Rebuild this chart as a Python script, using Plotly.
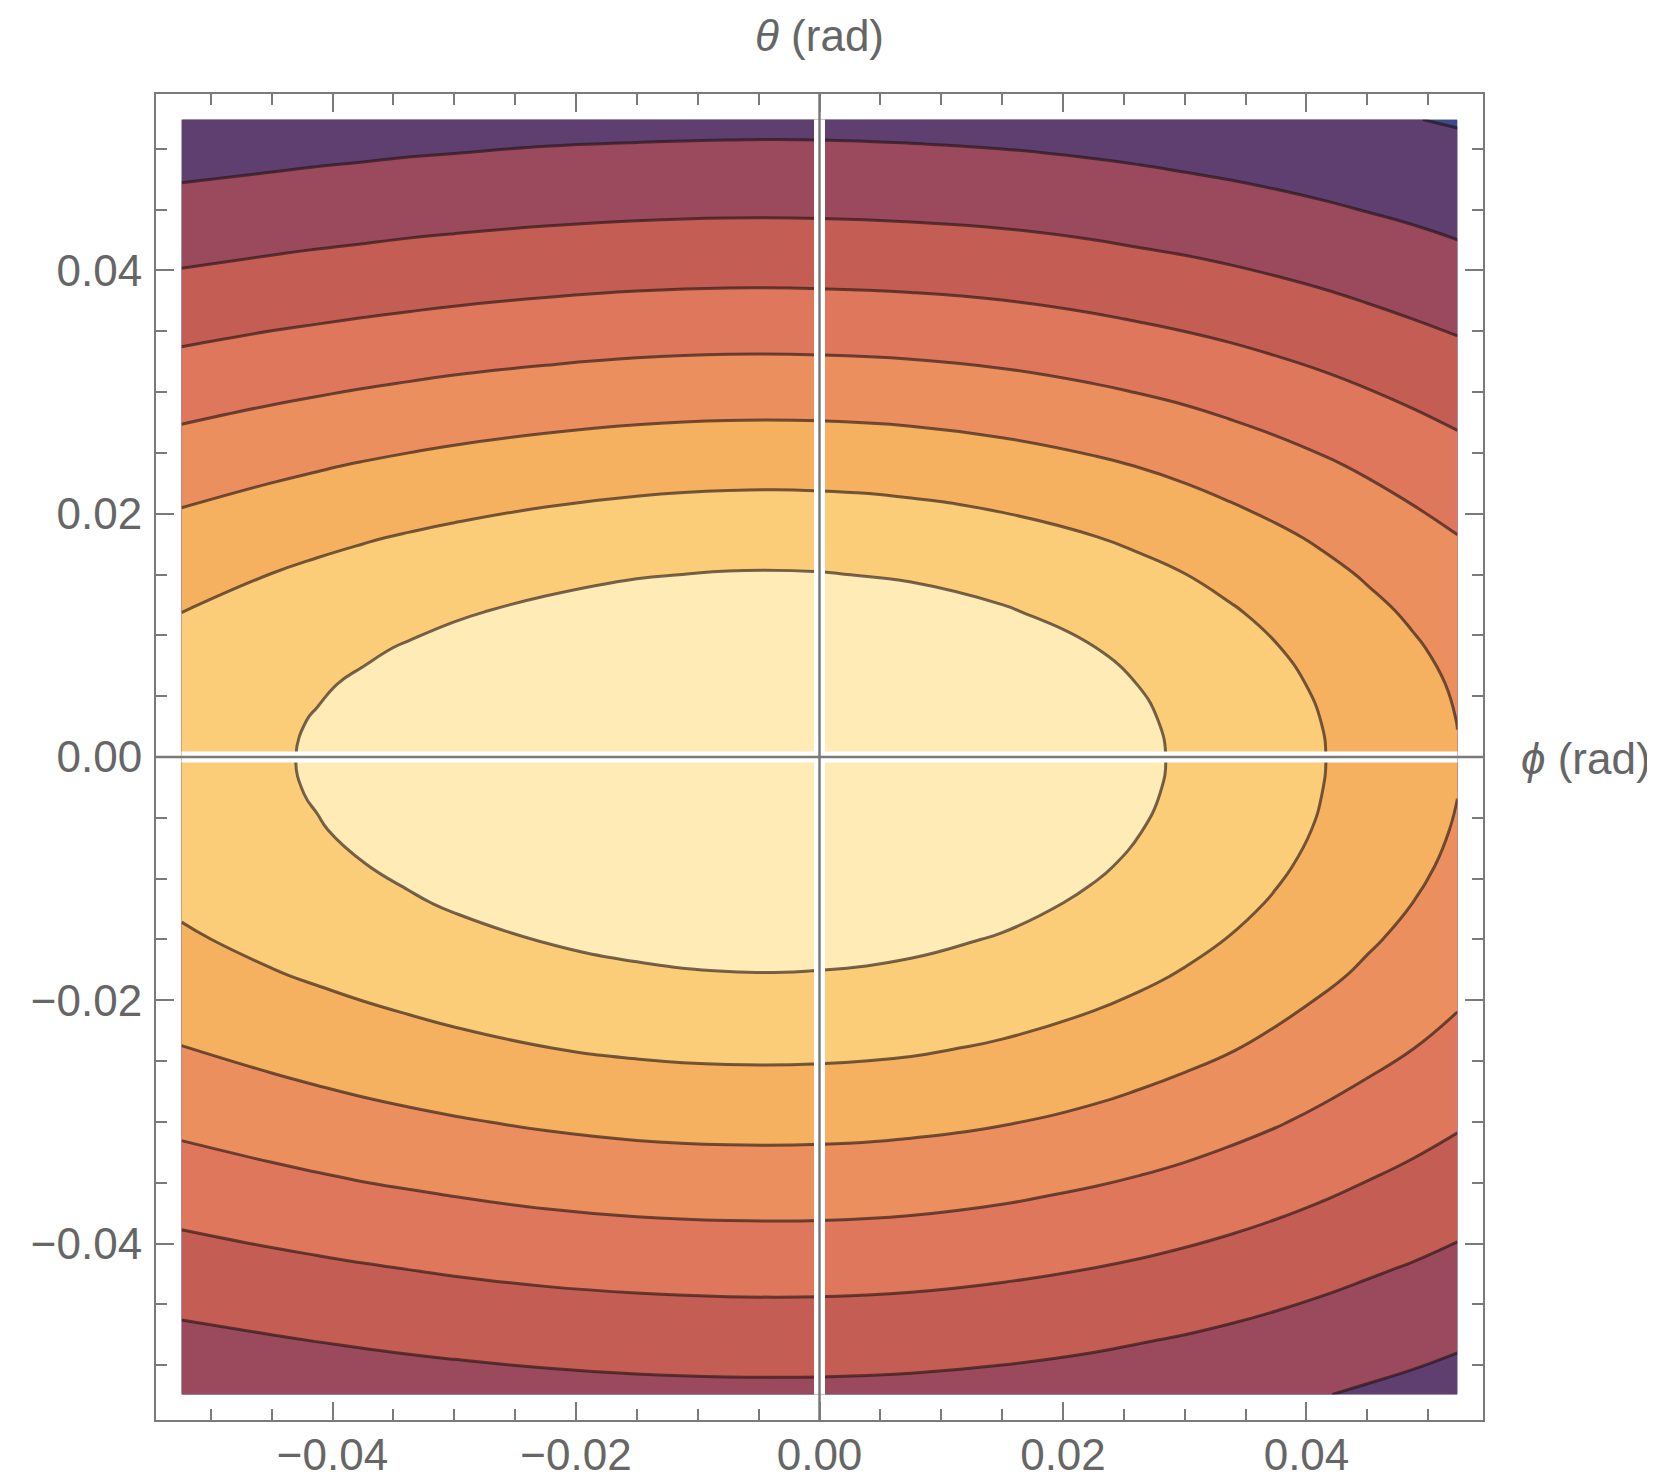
import plotly.graph_objects as go

# ---- data ----
phi = [-0.0524, -0.045, -0.04125, -0.0375, -0.03375, -0.03, -0.0225, -0.015, -0.0075, 0.0,
       0.0075, 0.015, 0.0225, 0.02625, 0.03, 0.03375, 0.0375, 0.04125, 0.045, 0.04875, 0.0524]
theta = [-0.0524, -0.048, -0.042, -0.036, -0.030, -0.024, -0.018, -0.015, -0.012, -0.009,
         -0.006, -0.003, 0.0, 0.003, 0.006, 0.009, 0.012, 0.015, 0.018, 0.024,
         0.030, 0.036, 0.042, 0.048, 0.0524]

# relative amplitude, one row per theta value (bottom to top), one column per phi value
z_grid = [
    [0.322, 0.336, 0.343, 0.349, 0.355, 0.360, 0.369, 0.376, 0.379, 0.379, 0.375, 0.366, 0.353, 0.345, 0.336, 0.326, 0.315, 0.303, 0.290, 0.278, 0.265],
    [0.377, 0.393, 0.401, 0.408, 0.415, 0.421, 0.432, 0.439, 0.443, 0.443, 0.438, 0.428, 0.413, 0.403, 0.393, 0.381, 0.368, 0.354, 0.340, 0.325, 0.310],
    [0.457, 0.476, 0.485, 0.494, 0.502, 0.510, 0.523, 0.532, 0.537, 0.537, 0.531, 0.518, 0.5001, 0.489, 0.476, 0.462, 0.446, 0.429, 0.411, 0.394, 0.376],
    [0.539, 0.562, 0.573, 0.584, 0.593, 0.602, 0.618, 0.629, 0.634, 0.634, 0.627, 0.612, 0.590, 0.577, 0.562, 0.545, 0.527, 0.507, 0.486, 0.465, 0.443],
    [0.621, 0.647, 0.660, 0.672, 0.683, 0.693, 0.711, 0.724, 0.730, 0.729, 0.721, 0.705, 0.680, 0.664, 0.647, 0.627, 0.606, 0.583, 0.559, 0.535, 0.510],
    [0.697, 0.726, 0.740, 0.754, 0.766, 0.778, 0.798, 0.812, 0.819, 0.818, 0.809, 0.790, 0.763, 0.745, 0.725, 0.704, 0.680, 0.654, 0.627, 0.6002, 0.573],
    [0.762, 0.794, 0.809, 0.824, 0.838, 0.851, 0.872, 0.888, 0.896, 0.895, 0.885, 0.864, 0.834, 0.815, 0.793, 0.769, 0.744, 0.716, 0.686, 0.656, 0.626],
    [0.789, 0.822, 0.838, 0.853, 0.868, 0.881, 0.903, 0.919, 0.928, 0.927, 0.916, 0.895, 0.864, 0.844, 0.822, 0.797, 0.770, 0.741, 0.710, 0.680, 0.649],
    [0.812, 0.846, 0.863, 0.878, 0.893, 0.907, 0.930, 0.946, 0.955, 0.954, 0.943, 0.922, 0.889, 0.869, 0.846, 0.820, 0.793, 0.763, 0.731, 0.6997, 0.668],
    [0.831, 0.865, 0.882, 0.898, 0.913, 0.927, 0.951, 0.968, 0.976, 0.976, 0.965, 0.942, 0.909, 0.888, 0.865, 0.839, 0.811, 0.780, 0.748, 0.716, 0.683],
    [0.844, 0.879, 0.896, 0.913, 0.928, 0.942, 0.966, 0.983, 0.992, 0.991, 0.980, 0.957, 0.924, 0.902, 0.879, 0.852, 0.824, 0.793, 0.760, 0.727, 0.694],
    [0.852, 0.888, 0.905, 0.922, 0.937, 0.951, 0.975, 0.993, 1.002, 1.001, 0.989, 0.967, 0.933, 0.911, 0.887, 0.861, 0.832, 0.8003, 0.767, 0.734, 0.701],
    [0.855, 0.891, 0.908, 0.925, 0.940, 0.954, 0.979, 0.996, 1.005, 1.004, 0.993, 0.970, 0.936, 0.914, 0.890, 0.863, 0.834, 0.803, 0.770, 0.736, 0.703],
    [0.851, 0.887, 0.904, 0.921, 0.936, 0.950, 0.974, 0.992, 1.001, 1.000, 0.988, 0.966, 0.932, 0.910, 0.886, 0.860, 0.831, 0.7995, 0.766, 0.733, 0.699],
    [0.840, 0.876, 0.893, 0.909, 0.924, 0.938, 0.962, 0.979, 0.988, 0.987, 0.976, 0.954, 0.920, 0.899, 0.875, 0.849, 0.820, 0.789, 0.757, 0.724, 0.691],
    [0.823, 0.857, 0.874, 0.890, 0.905, 0.919, 0.942, 0.959, 0.967, 0.967, 0.955, 0.934, 0.901, 0.880, 0.857, 0.831, 0.803, 0.773, 0.741, 0.709, 0.676],
    [0.799, 0.832, 0.848, 0.864, 0.878, 0.892, 0.914, 0.931, 0.939, 0.938, 0.927, 0.906, 0.874, 0.854, 0.832, 0.807, 0.779, 0.750, 0.719, 0.688, 0.656],
    [0.769, 0.801, 0.817, 0.831, 0.845, 0.858, 0.880, 0.896, 0.904, 0.903, 0.893, 0.872, 0.841, 0.822, 0.801, 0.776, 0.750, 0.722, 0.692, 0.662, 0.632],
    [0.734, 0.765, 0.780, 0.794, 0.807, 0.819, 0.840, 0.855, 0.863, 0.862, 0.852, 0.833, 0.803, 0.785, 0.764, 0.741, 0.716, 0.689, 0.661, 0.632, 0.603],
    [0.652, 0.679, 0.692, 0.705, 0.717, 0.728, 0.746, 0.759, 0.766, 0.766, 0.757, 0.739, 0.713, 0.697, 0.679, 0.658, 0.636, 0.612, 0.587, 0.561, 0.536],
    [0.559, 0.583, 0.594, 0.605, 0.615, 0.625, 0.640, 0.652, 0.658, 0.657, 0.650, 0.635, 0.612, 0.598, 0.583, 0.565, 0.546, 0.526, 0.504, 0.482, 0.460],
    [0.464, 0.484, 0.493, 0.502, 0.510, 0.518, 0.531, 0.541, 0.546, 0.545, 0.539, 0.527, 0.508, 0.496, 0.483, 0.469, 0.453, 0.436, 0.418, 0.3999, 0.382],
    [0.372, 0.388, 0.396, 0.403, 0.410, 0.416, 0.426, 0.434, 0.438, 0.437, 0.432, 0.423, 0.408, 0.398, 0.388, 0.376, 0.363, 0.350, 0.335, 0.321, 0.306],
    [0.289, 0.301, 0.307, 0.312, 0.318, 0.322, 0.331, 0.336, 0.339, 0.339, 0.335, 0.328, 0.316, 0.309, 0.301, 0.292, 0.282, 0.271, 0.260, 0.249, 0.237],
    [0.235, 0.244, 0.249, 0.254, 0.258, 0.262, 0.269, 0.273, 0.276, 0.276, 0.272, 0.266, 0.257, 0.251, 0.244, 0.237, 0.229, 0.220, 0.211, 0.202, 0.193],
]

level_start = 0.1
level_end = 0.9
level_step = 0.1

# band colours, lowest band first
band_colors = ["#2E3A78", "#3B4A8C", "#5E3F70", "#9B4A5E", "#C45E55",
               "#DF775C", "#EC8F5F", "#F5B060", "#FCCD79", "#FFEBB6"]

x_ticks = [-0.04, -0.02, 0.0, 0.02, 0.04]
y_ticks = [-0.04, -0.02, 0.0, 0.02, 0.04]
x_title = "<i>ϕ</i> (rad)"
y_title = "<i>θ</i> (rad)"

# ---- figure ----
FONT = "Liberation Sans, Arial, Helvetica, sans-serif"
GRAY = "#7a7a7a"
TXT = "#666666"

n = len(band_colors)
colorscale = [[i / (n - 1), c] for i, c in enumerate(band_colors)]

fig = go.Figure()
fig.add_trace(go.Contour(
    x=phi, y=theta, z=z_grid,
    contours=dict(start=level_start, end=level_end, size=level_step, coloring="fill"),
    colorscale=colorscale,
    showscale=False,
    line=dict(color="rgba(30,18,18,0.62)", width=3, smoothing=1.3),
    hoverinfo="skip",
))

axis_common = dict(
    range=[-0.0545, 0.0545],
    automargin=False,
    showline=True, mirror="ticks", linecolor=GRAY, linewidth=2,
    ticks="inside", ticklen=18, tickwidth=2, tickcolor=GRAY,
    tickformat=".2f",
    tickfont=dict(family=FONT, size=44, color=TXT),
    showgrid=False, zeroline=False,
    minor=dict(dtick=0.005, ticklen=11, tickwidth=2, tickcolor=GRAY, ticks="inside", showgrid=False),
)
fig.update_xaxes(tickvals=x_ticks, ticklabelstandoff=-5, **axis_common)
fig.update_yaxes(tickvals=y_ticks, ticklabelstandoff=3, **axis_common)

# white gaps and gray axis lines through the origin
shapes = [
    dict(type="line", xref="x", yref="y", x0=0, x1=0, y0=min(theta), y1=max(theta),
         line=dict(color="white", width=11), layer="above"),
    dict(type="line", xref="x", yref="y", x0=min(phi), x1=max(phi), y0=0, y1=0,
         line=dict(color="white", width=11), layer="above"),
    dict(type="line", xref="x", yref="paper", x0=0, x1=0, y0=0, y1=1,
         line=dict(color=GRAY, width=2.5), layer="above"),
    dict(type="line", xref="paper", yref="y", x0=0, x1=1, y0=0, y1=0,
         line=dict(color=GRAY, width=2.5), layer="above"),
]

annotations = [
    dict(text=y_title, xref="x", x=0, yref="paper", y=1.0438, xanchor="center", yanchor="middle",
         showarrow=False, font=dict(family=FONT, size=44, color=TXT)),
    dict(text=x_title, xref="paper", x=1.0272, yref="y", y=0, xanchor="left", yanchor="middle",
         yshift=-1, showarrow=False, font=dict(family=FONT, size=44, color=TXT)),
]

fig.update_layout(
    width=1655, height=1481,
    margin=dict(l=148, r=180, t=86, b=69),
    paper_bgcolor="white", plot_bgcolor="white",
    shapes=shapes, annotations=annotations,
    showlegend=False,
)

fig.write_html("out.html")
